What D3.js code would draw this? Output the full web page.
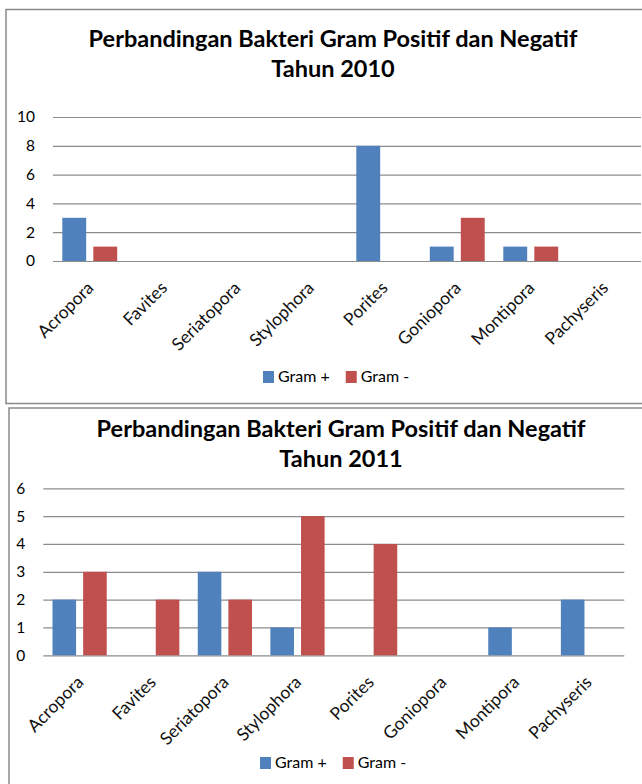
<!DOCTYPE html>
<html>
<head>
<meta charset="utf-8">
<script src="https://cdn.jsdelivr.net/npm/d3@7"></script>
<style>
  body { margin: 0; background: #fff; }
  svg { display: block; }
  text { font-family: Lato, "Open Sans", sans-serif; }
</style>
</head>
<body>
<div id="viz"></div>
<script>
// data
const categories = ["Acropora", "Favites", "Seriatopora", "Stylophora", "Porites", "Goniopora", "Montipora", "Pachyseris"];
const seriesNames = ["Gram +", "Gram -"];
const gramPos2010 = [3, 0, 0, 0, 8, 1, 1, 0];
const gramNeg2010 = [1, 0, 0, 0, 0, 3, 1, 0];
const gramPos2011 = [2, 0, 3, 1, 0, 0, 1, 2];
const gramNeg2011 = [3, 2, 2, 5, 4, 0, 0, 0];
const yTicks2010 = [0, 2, 4, 6, 8, 10];
const yTicks2011 = [0, 1, 2, 3, 4, 5, 6];
const titleLine1 = "Perbandingan Bakteri Gram Positif dan Negatif";

const colors = ["#4F81BD", "#C0504D"];
const width = 642, height = 784;

const svg = d3.select("#viz").append("svg")
    .attr("width", width)
    .attr("height", height);

function makeChart(opt) {
    let g = svg.append("g");

    // outer frame of the chart object
    g.append("rect")
        .attr("x", opt.frame[0]).attr("y", opt.frame[1])
        .attr("width", opt.frame[2]).attr("height", opt.frame[3])
        .attr("fill", "#fff")
        .attr("stroke", "#8a8a8a")
        .attr("stroke-width", 1.5);

    // title, two lines
    g.append("text")
        .attr("x", opt.titleX).attr("y", opt.titleY)
        .attr("text-anchor", "middle")
        .attr("font-size", 23.5).attr("font-weight", "bold")
        .attr("fill", "#000")
        .text(titleLine1);
    g.append("text")
        .attr("x", opt.titleX).attr("y", opt.titleY + 30)
        .attr("text-anchor", "middle")
        .attr("font-size", 23.5).attr("font-weight", "bold")
        .attr("fill", "#000")
        .text("Tahun " + opt.year);

    let x0 = d3.scaleBand()
        .domain(categories)
        .range([opt.left, opt.right]);
    let x1 = d3.scaleBand()
        .domain(seriesNames)
        .range([0, x0.bandwidth()])
        .paddingInner(0.23)
        .paddingOuter(0.3);
    let y = d3.scaleLinear()
        .domain([0, d3.max(opt.ticks)])
        .range([opt.bottom, opt.top]);

    // gridlines + y labels
    let yAxis = d3.axisLeft(y)
        .tickValues(opt.ticks)
        .tickSize(-(opt.right - opt.left))
        .tickPadding(18)
        .tickFormat(d3.format("d"));
    let ya = g.append("g")
        .attr("transform", `translate(${opt.left},0)`)
        .call(yAxis);
    ya.select(".domain").remove();
    ya.selectAll(".tick line").attr("stroke", "#8c8c8c").attr("stroke-width", 1.2);
    ya.selectAll(".tick text")
        .attr("font-size", 15.5)
        .attr("fill", "#000")
        .attr("font-family", "Lato, 'Open Sans', sans-serif");

    // bars
    let rows = categories.map((c, i) => ({cat: c, vals: [opt.pos[i], opt.neg[i]]}));
    g.append("g").selectAll("g")
        .data(rows)
        .join("g")
        .attr("transform", d => `translate(${x0(d.cat)},0)`)
        .selectAll("rect")
        .data(d => d.vals.map((v, k) => ({name: seriesNames[k], v: v, k: k})))
        .join("rect")
        .attr("x", d => x1(d.name))
        .attr("width", x1.bandwidth())
        .attr("y", d => y(d.v))
        .attr("height", d => y(0) - y(d.v))
        .attr("fill", d => colors[d.k]);

    // category labels rotated 45 degrees
    let xa = g.append("g")
        .attr("transform", `translate(0,${opt.bottom})`)
        .call(d3.axisBottom(x0).tickSize(0).tickPadding(0));
    xa.select(".domain").remove();
    xa.selectAll(".tick text")
        .attr("font-size", 17.5)
        .attr("fill", "#111")
        .attr("font-family", "Lato, 'Open Sans', sans-serif")
        .attr("text-anchor", "end")
        .attr("dy", null)
        .attr("transform", "translate(5,28) rotate(-45)");

    // legend
    let lg = g.append("g").attr("transform", `translate(${opt.legendX},${opt.legendY})`);
    let lx = 0;
    seriesNames.forEach(function(name, k) {
        lg.append("rect")
            .attr("x", lx).attr("y", -11)
            .attr("width", 11).attr("height", 12)
            .attr("fill", colors[k]);
        let t = lg.append("text")
            .attr("x", lx + 15).attr("y", 0)
            .attr("font-size", 16)
            .attr("fill", "#000")
            .text(name);
        lx += 15 + t.node().getComputedTextLength() + 16;
    });
}

makeChart({
    year: 2010, pos: gramPos2010, neg: gramNeg2010, ticks: yTicks2010,
    frame: [6, 9.5, 700, 394],
    titleX: 333, titleY: 47,
    left: 53, right: 641, top: 117, bottom: 261,
    legendX: 263, legendY: 382
});
makeChart({
    year: 2011, pos: gramPos2011, neg: gramNeg2011, ticks: yTicks2011,
    frame: [9, 408, 700, 420],
    titleX: 341, titleY: 437,
    left: 43.3, right: 624.3, top: 488.3, bottom: 655.3,
    legendX: 260, legendY: 768
});
</script>
</body>
</html>
